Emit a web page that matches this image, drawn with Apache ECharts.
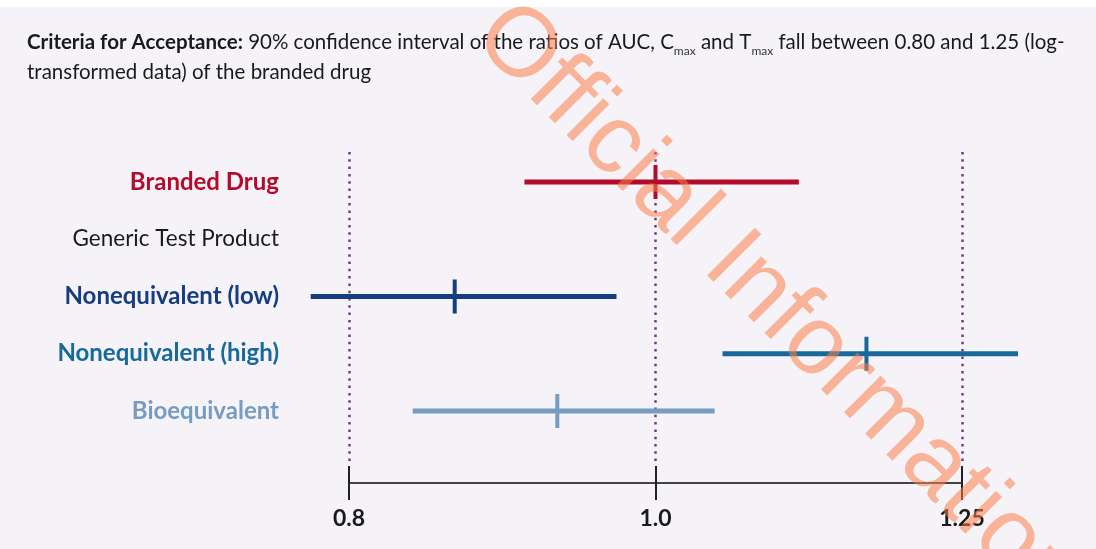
<!DOCTYPE html>
<html>
<head>
<meta charset="utf-8">
<script src="https://cdn.jsdelivr.net/npm/echarts@6/dist/echarts.min.js"></script>
<style>
  html, body { margin: 0; padding: 0; background: #f5f3f8; }
  #chart { width: 1096px; height: 549px; }
</style>
</head>
<body>
<div id="chart"></div>
<script>
  // rows, top to bottom
  let groups = ['Branded Drug', 'Generic Test Product', 'Nonequivalent (low)', 'Nonequivalent (high)', 'Bioequivalent']
  let groupColors = ['#b30b2b', '#1a1a1a', '#163e7f', '#17699b', '#779cc2']
  // ratio to branded drug (90% CI), null = no bar drawn
  let lower = [0.909, null, 0.778, 1.050, 0.838]
  let point = [1.000, null, 0.864, 1.166, 0.931]
  let upper = [1.110, null, 0.972, 1.302, 1.044]
  // x ticks (ratio, plotted on a log scale)
  let tickValues = [0.8, 1.0, 1.25]
  let tickLabels = ['0.8', '1.0', '1.25']

  let font = 'Lato'
  let step = Math.log(1.25)

  let seriesData = []
  for (let i = 0; i < groups.length; i++) {
    if (point[i] == null) continue
    seriesData.push([Math.log(lower[i]), Math.log(point[i]), Math.log(upper[i]), i])
  }

  let tickLabel = function (v) {
    for (let i = 0; i < tickValues.length; i++) {
      if (Math.abs(Math.log(tickValues[i]) - v) < 1e-6) return tickLabels[i]
    }
    return ''
  }

  let rich = {}
  for (let i = 0; i < groups.length; i++) {
    rich['g' + i] = {
      color: groupColors[i],
      fontFamily: font,
      fontSize: i == 1 ? 22.5 : 24,
      fontWeight: i == 1 ? 'normal' : 'bold'
    }
  }

  let chart = document.getElementById('chart')
  let myChart = echarts.init(chart)
  const option = {
    backgroundColor: '#f5f3f8',
    animation: false,
    title: {
      left: 22,
      top: 22,
      text: '{b|Criteria for Acceptance:} 90% confidence interval of the ratios of AUC, C{s|max} and T{s|max} fall between 0.80 and 1.25 (log-\ntransformed data) of the branded drug',
      textStyle: {
        fontFamily: font,
        fontSize: 20.5,
        fontWeight: 'normal',
        color: '#1a1a1a',
        lineHeight: 30,
        rich: {
          b: { fontFamily: font, fontSize: 20.5, fontWeight: 'bold', color: '#1a1a1a', lineHeight: 30 },
          s: { fontFamily: font, fontSize: 12, color: '#333', verticalAlign: 'bottom', lineHeight: 30 }
        }
      }
    },
    graphic: [
      {
        type: 'rect',
        shape: { x: 0, y: 0, width: 1096, height: 7 },
        style: { fill: '#ffffff' },
        z: 0
      },
      {
        type: 'text',
        x: 490,
        y: 20,
        rotation: -Math.PI / 4,
        z: 100,
        style: {
          text: 'Official Information',
          fontFamily: 'Liberation Sans',
          fontSize: 98,
          fill: 'rgba(250, 125, 75, 0.55)',
          textAlign: 'left',
          textVerticalAlign: 'middle'
        }
      }
    ],
    grid: {
      left: 349,
      right: 134,
      top: 152,
      bottom: 87
    },
    xAxis: [
      {
        type: 'value',
        min: -step,
        max: step,
        interval: step,
        position: 'bottom',
        offset: 21,
        axisLine: { show: true, onZero: false, lineStyle: { color: '#444', width: 2 } },
        axisTick: { show: true, length: 17, lineStyle: { color: '#222', width: 2 } },
        axisLabel: {
          margin: 24,
          fontFamily: font,
          fontSize: 23,
          fontWeight: 'bold',
          color: '#1a1a1a',
          formatter: tickLabel
        },
        splitLine: {
          show: true,
          lineStyle: { color: '#6e3f80', width: 2.5, type: [2.5, 4.8] }
        }
      },
      {
        type: 'value',
        min: -step,
        max: step,
        interval: step,
        position: 'bottom',
        offset: 21,
        axisLine: { show: false, onZero: false },
        axisTick: { show: true, inside: true, length: 17, lineStyle: { color: '#222', width: 2 } },
        axisLabel: { show: false },
        splitLine: { show: false }
      }
    ],
    yAxis: {
      type: 'value',
      inverse: true,
      min: -0.524,
      max: 4.891,
      axisLine: { show: false },
      axisTick: { show: false },
      splitLine: { show: false },
      axisLabel: {
        margin: 70,
        customValues: [0, 1, 2, 3, 4],
        formatter: function (v) {
          return '{g' + v + '|' + groups[v] + '}'
        },
        rich: rich
      }
    },
    series: [
      {
        name: 'Ratio',
        type: 'custom',
        clip: false,
        xAxisIndex: 0,
        encode: { x: [0, 1, 2], y: 3 },
        renderItem: function (params, api) {
          let row = api.value(3)
          let lo = api.coord([api.value(0), row])
          let mid = api.coord([api.value(1), row])
          let hi = api.coord([api.value(2), row])
          let color = groupColors[row]
          return {
            type: 'group',
            children: [
              {
                type: 'line',
                shape: { x1: lo[0], y1: lo[1], x2: hi[0], y2: hi[1] },
                style: { stroke: color, lineWidth: 5 }
              },
              {
                type: 'line',
                shape: { x1: mid[0], y1: mid[1] - 17, x2: mid[0], y2: mid[1] + 17 },
                style: { stroke: color, lineWidth: 4 }
              }
            ]
          }
        },
        data: seriesData
      }
    ]
  }
  myChart.setOption(option)
</script>
</body>
</html>
